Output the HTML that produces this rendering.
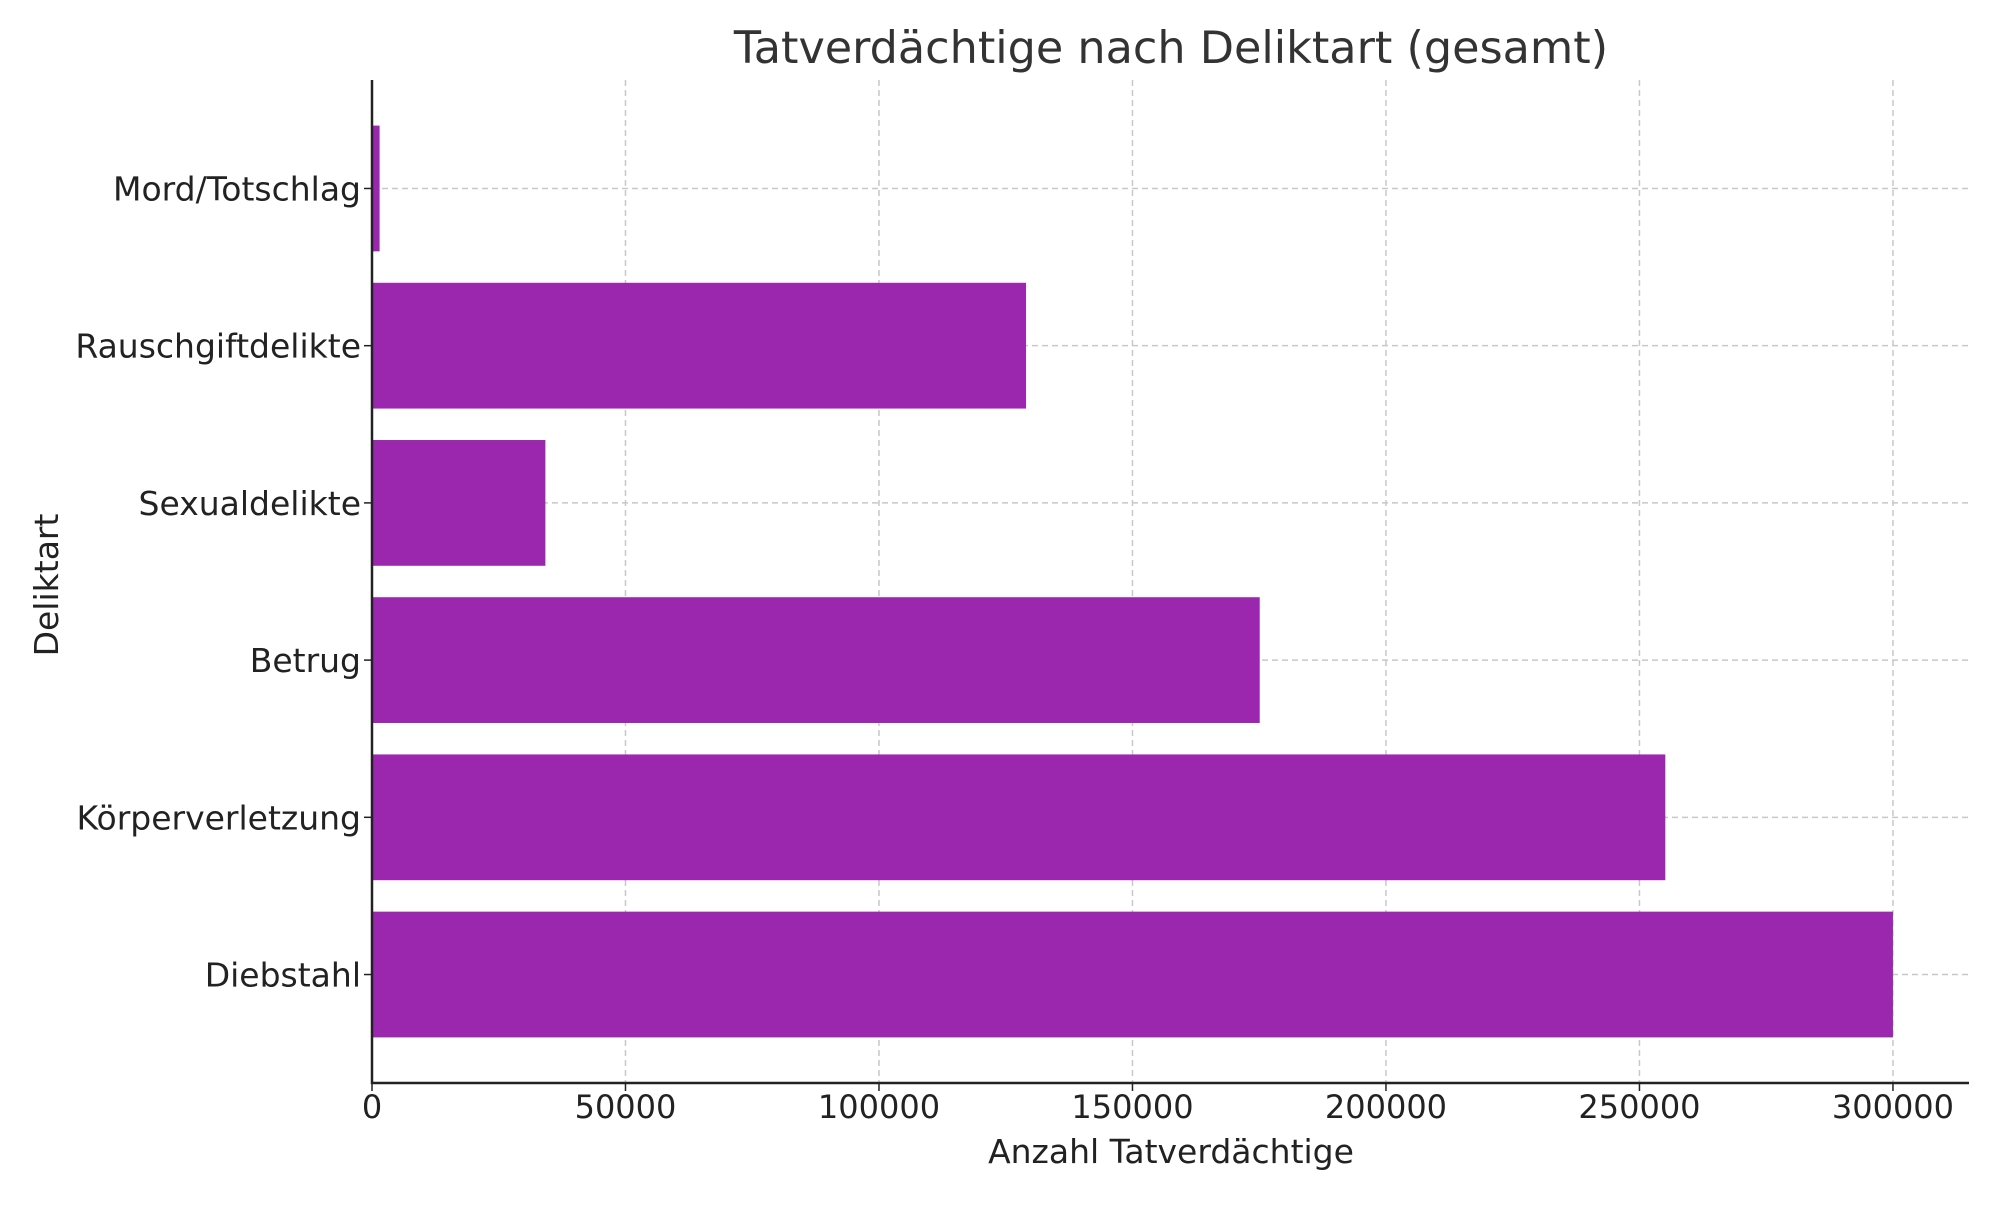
<!DOCTYPE html>
<html><head><meta charset="utf-8"><style>
html,body{margin:0;padding:0;background:#fff}
svg text{font-family:"DejaVu Sans","Liberation Sans",sans-serif;fill:#222}
</style></head><body>
<svg id="chart" width="2000" height="1200" viewBox="0 0 2000 1200" xmlns="http://www.w3.org/2000/svg">
<text x="1171" y="63" text-anchor="middle" font-size="44.5" style="fill:#333">Tatverdächtige nach Deliktart (gesamt)</text>
<g id="grid"></g><g id="bars"></g><g id="axes"></g>
<text x="1171" y="1163" text-anchor="middle" font-size="33">Anzahl Tatverdächtige</text>
<text transform="translate(58,585) rotate(-90)" text-anchor="middle" font-size="33">Deliktart</text>
</svg>
<script>
const categories = ["Diebstahl","Körperverletzung","Betrug","Sexualdelikte","Rauschgiftdelikte","Mord/Totschlag"];
const values = [300000,255100,175100,34200,129000,1500];
const xTicks = [0,50000,100000,150000,200000,250000,300000];
const NS="http://www.w3.org/2000/svg";
const L=372,R=1969,T=80,B=1083,XMAX=315000;
const x=v=>L+v/XMAX*(R-L);
const yMin=-0.69,yMax=5.69;
const y=i=>B-(i-yMin)/(yMax-yMin)*(B-T);
const bandH=(B-T)/(yMax-yMin);
function mk(tag,attrs,parent){const e=document.createElementNS(NS,tag);for(const k in attrs)e.setAttribute(k,attrs[k]);document.getElementById(parent).appendChild(e);return e;}
xTicks.forEach(v=>{
  const g=mk("line",{x1:x(v),x2:x(v),y1:T,y2:B,stroke:"#c8c8c8","stroke-width":1.5,"stroke-dasharray":"6,4"},"grid");
  
  
  const t=mk("line",{x1:x(v),x2:x(v),y1:B,y2:B+8,stroke:"#222","stroke-width":1.5},"axes");
  
  
  const l=mk("text",{x:x(v),y:B+35,"text-anchor":"middle","font-size":"32"},"axes");
  l.textContent=v;
  
  
});
categories.forEach((c,i)=>{
  const g=mk("line",{x1:L,x2:R,y1:y(i),y2:y(i),stroke:"#c8c8c8","stroke-width":1.5,"stroke-dasharray":"6,4"},"grid");
  
  
  const b=mk("rect",{x:L,y:y(i)-0.4*bandH,width:x(values[i])-L,height:0.8*bandH,fill:"#9b27af"},"bars");
  
  
  const t=mk("line",{x1:L-8,x2:L,y1:y(i),y2:y(i),stroke:"#222","stroke-width":1.5},"axes");
  
  
  const l=mk("text",{x:L-11,y:y(i)+12,"text-anchor":"end","font-size":"33"},"axes");
  l.textContent=c;
  
  
});
const ax=mk("line",{x1:L,x2:L,y1:T,y2:B+1,stroke:"#222","stroke-width":2.5},"axes");


const bx=mk("line",{x1:L-1,x2:R,y1:B,y2:B,stroke:"#222","stroke-width":2.5},"axes");


</script>
</body></html>
